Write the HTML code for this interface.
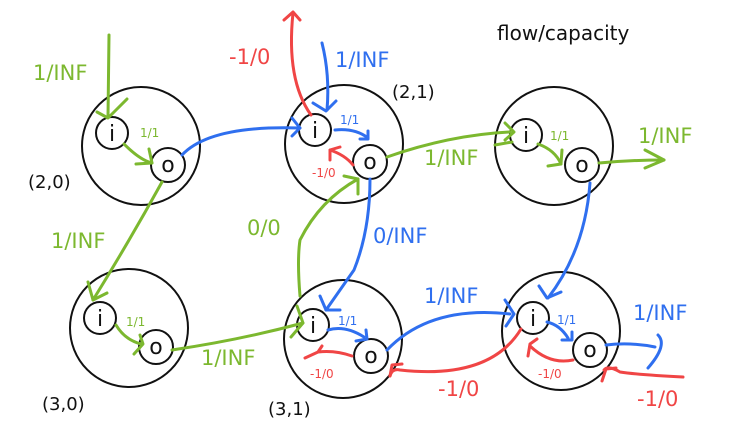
<!DOCTYPE html>
<html><head><meta charset="utf-8"><style>
html,body{margin:0;padding:0;background:#fff;}
svg{display:block;}
text{font-family:"DejaVu Sans","Liberation Sans",sans-serif;}
</style></head><body>
<svg width="748" height="445" viewBox="0 0 748 445" xmlns="http://www.w3.org/2000/svg">
<g fill="none" stroke="#111" stroke-width="2">
<circle cx="141" cy="146" r="59"/>
<circle cx="344" cy="144" r="59"/>
<circle cx="554" cy="146" r="59"/>
<circle cx="129" cy="328" r="59"/>
<circle cx="343" cy="339" r="59"/>
<circle cx="561" cy="331" r="59"/>
</g>
<g fill="#fff" stroke="#111" stroke-width="2">
<circle cx="112" cy="133" r="16"/><circle cx="168" cy="165" r="17"/>
<circle cx="315" cy="130" r="16"/><circle cx="370" cy="162" r="17"/>
<circle cx="526" cy="135" r="16"/><circle cx="582" cy="165" r="17"/>
<circle cx="100" cy="318" r="16"/><circle cx="156" cy="347" r="17"/>
<circle cx="313" cy="325" r="16"/><circle cx="371" cy="356" r="17"/>
<circle cx="533" cy="318" r="16"/><circle cx="590" cy="350" r="17"/>
</g>
<g font-size="22" fill="#111" text-anchor="middle">
<text x="112" y="141">i</text><text x="168" y="172">o</text>
<text x="315" y="138">i</text><text x="370" y="169">o</text>
<text x="526" y="143">i</text><text x="582" y="172">o</text>
<text x="100" y="326">i</text><text x="156" y="354">o</text>
<text x="313" y="333">i</text><text x="371" y="363">o</text>
<text x="533" y="326">i</text><text x="590" y="357">o</text>
</g>
<g font-size="18" fill="#111">
<text x="28" y="188">(2,0)</text>
<text x="392" y="98">(2,1)</text>
<text x="42" y="410">(3,0)</text>
<text x="268" y="415">(3,1)</text>
<text x="497" y="40" font-size="20">flow/capacity</text>
</g>
<g fill="none" stroke="#7cb82f" stroke-width="3" stroke-linecap="round" stroke-linejoin="round">
<path d="M109 35 L108 117"/><path d="M97 112 L108 118 L127 99"/>
<path d="M124 144 Q140 160 152 163"/><path d="M136 164 L152 163 L149 149"/>
<path d="M162 182 Q130 240 93 300"/><path d="M88 282 L93 300 L107 293"/>
<path d="M116 325 Q125 340 141 344"/><path d="M134 354 L143 344 L140 335"/>
<path d="M172 350 Q240 340 303 323"/><path d="M291 337 L303 323 L297 306"/>
<path d="M300 296 Q297 260 300 240 Q320 200 358 179"/><path d="M344 176 L358 179 L358 194"/>
<path d="M387 157 Q450 135 510 132"/><path d="M505 123 L514 132 L505 140"/>
<path d="M538 144 Q555 150 561 164"/><path d="M548 166 L561 164 L562 150"/>
<path d="M599 163 Q630 160 664 160"/><path d="M645 150 L664 160 L645 168"/>
<path d="M495 145 L512 142"/>
</g>
<g fill="none" stroke="#2f6fef" stroke-width="3" stroke-linecap="round" stroke-linejoin="round">
<path d="M182 155 Q210 125 300 128"/><path d="M292 118 L300 128 L292 136"/>
<path d="M322 43 Q330 75 327 110"/><path d="M313 103 L326 111 L336 101"/>
<path d="M335 130 Q355 128 368 138"/><path d="M360 139 L368 139 L368 131"/>
<path d="M370 179 Q370 230 354 270 Q340 290 326 310"/><path d="M320 296 L326 310 L340 310"/>
<path d="M328 330 Q345 325 364 337"/><path d="M356 341 L367 339 L366 330"/>
<path d="M387 350 Q430 305 510 314"/><path d="M505 300 L514 314 L506 326"/>
<path d="M547 322 Q560 325 568 338"/><path d="M562 340 L572 340 L572 332"/>
<path d="M590 183 Q585 250 548 298"/><path d="M539 286 L547 298 L561 292"/>
<path d="M606 345 Q630 342 655 347"/><path d="M658 335 Q668 345 648 368"/>
</g>
<g fill="none" stroke="#f04545" stroke-width="3" stroke-linecap="round" stroke-linejoin="round">
<path d="M311 115 Q286 80 293 13"/><path d="M284 20 L293 12 L300 20"/>
<path d="M353 165 Q345 155 330 150"/><path d="M330 160 L330 150 L340 147"/>
<path d="M352 356 Q335 350 318 352"/><path d="M305 358 L318 352 L322 346"/>
<path d="M521 329 Q490 380 400 370 Q392 368 390 376"/><path d="M390 376 L392 365 L402 364"/>
<path d="M573 360 Q550 365 530 346"/><path d="M528 356 L530 344 L537 339"/>
<path d="M683 377 Q640 375 620 372 Q608 365 604 370"/><path d="M602 381 L606 369 L616 368"/>
</g>
<g font-size="21" fill="#7cb82f">
<text x="33" y="80">1/INF</text>
<text x="51" y="248">1/INF</text>
<text x="201" y="365">1/INF</text>
<text x="247" y="235">0/0</text>
<text x="424" y="165">1/INF</text>
<text x="638" y="143">1/INF</text>
</g>
<g font-size="12" fill="#7cb82f">
<text x="140" y="137">1/1</text>
<text x="126" y="326">1/1</text>
<text x="550" y="140">1/1</text>
</g>
<g font-size="21" fill="#2f6fef">
<text x="335" y="67">1/INF</text>
<text x="373" y="243">0/INF</text>
<text x="424" y="303">1/INF</text>
<text x="633" y="320">1/INF</text>
</g>
<g font-size="12" fill="#2f6fef">
<text x="340" y="124">1/1</text>
<text x="338" y="325">1/1</text>
<text x="557" y="324">1/1</text>
</g>
<g font-size="21" fill="#f04545">
<text x="229" y="64">-1/0</text>
<text x="438" y="396">-1/0</text>
<text x="637" y="406">-1/0</text>
</g>
<g font-size="12" fill="#f04545">
<text x="312" y="177">-1/0</text>
<text x="310" y="378">-1/0</text>
<text x="538" y="378">-1/0</text>
</g>
</svg>
</body></html>
